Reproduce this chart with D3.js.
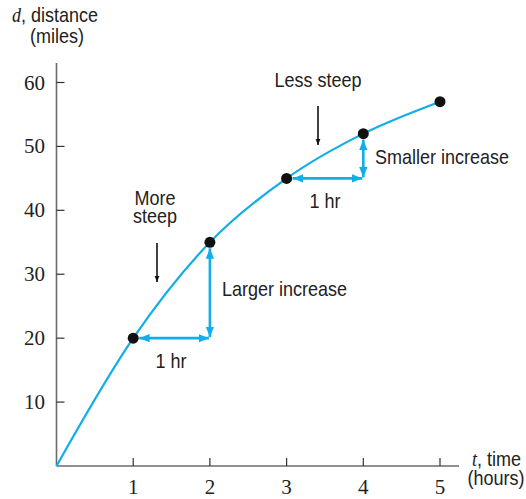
<!DOCTYPE html>
<html><head><meta charset="utf-8">
<script src="https://cdn.jsdelivr.net/npm/d3@7"></script>
<style>
body{margin:0;background:#fff;}
.sans{font-family:"Liberation Sans",Arial,sans-serif;}
.serif{font-family:"Liberation Serif","DejaVu Serif",serif;}
</style>
</head><body>
<svg id="c" width="526" height="499"></svg>
<script>
const times = [0, 1, 2, 3, 4, 5];
const distances = [0, 20, 35, 45, 52, 57];
const markedTimes = [1, 2, 3, 4, 5];
const xTicks = [1, 2, 3, 4, 5];
const yTicks = [10, 20, 30, 40, 50, 60];

const svg = d3.select("#c");
const x = d3.scaleLinear().domain([0, 5]).range([56.5, 440]);
const y = d3.scaleLinear().domain([0, 60]).range([466, 82.5]);
const blue = "#12aee8";
const axisCol = "#6b6b6b";
const SX = 0.9;

// axes
svg.append("line").attr("x1", x(0)).attr("x2", 459).attr("y1", y(0)).attr("y2", y(0))
  .attr("stroke", axisCol).attr("stroke-width", 1.6);
svg.append("line").attr("x1", x(0)).attr("x2", x(0)).attr("y1", y(0)).attr("y2", 63)
  .attr("stroke", axisCol).attr("stroke-width", 1.6);

xTicks.forEach(t => {
  svg.append("line").attr("x1", x(t)).attr("x2", x(t)).attr("y1", y(0)).attr("y2", y(0) - 8)
    .attr("stroke", "#333").attr("stroke-width", 1.2);
  svg.append("text").attr("class", "serif").attr("x", x(t)).attr("y", 494)
    .attr("text-anchor", "middle").attr("font-size", 21).attr("fill", "#222").text(t);
});
yTicks.forEach(v => {
  svg.append("line").attr("x1", x(0)).attr("x2", x(0) + 8).attr("y1", y(v)).attr("y2", y(v))
    .attr("stroke", "#333").attr("stroke-width", 1.2);
  svg.append("text").attr("class", "serif").attr("x", 45).attr("y", y(v) + 7)
    .attr("text-anchor", "end").attr("font-size", 21).attr("fill", "#222").text(v);
});

// condensed text helper
function ctext(xx, yy, anchor, size) {
  return svg.append("text").attr("transform", `translate(${xx},${yy}) scale(${SX},1)`)
    .attr("text-anchor", anchor || "start").attr("font-size", size || 20).attr("fill", "#222");
}

// axis labels (two lines in one text element)
const yl = ctext(12, 22, "start", 20);
yl.append("tspan").attr("class", "serif").attr("font-style", "italic").text("d");
yl.append("tspan").attr("class", "sans").text(", distance");
yl.append("tspan").attr("class", "sans").attr("x", 20).attr("y", 21).text("(miles)");
const xl = ctext(472, 466, "start", 20);
xl.append("tspan").attr("class", "serif").attr("font-style", "italic").text("t");
xl.append("tspan").attr("class", "sans").text(", time");
xl.append("tspan").attr("class", "sans").attr("x", -5).attr("y", 19).text("(hours)");

// curve
const pts = times.map((t, i) => [t, distances[i]]);
svg.append("path").datum(pts)
  .attr("d", d3.line().x(d => x(d[0])).y(d => y(d[1])).curve(d3.curveMonotoneX))
  .attr("fill", "none").attr("stroke", blue).attr("stroke-width", 2.2);

// arrow markers
const defs = svg.append("defs");
function marker(id, col) {
  defs.append("marker").attr("id", id).attr("viewBox", "0 0 10 10").attr("refX", 10).attr("refY", 5)
    .attr("markerWidth", 4).attr("markerHeight", 4).attr("orient", "auto-start-reverse")
    .attr("markerUnits", "strokeWidth")
    .append("path").attr("d", "M0,1 L10,5 L0,9 Z").attr("fill", col);
}
marker("ab", blue);
marker("ak", "#111");

function dbl(x1, y1, x2, y2) {
  svg.append("line").attr("x1", x1).attr("y1", y1).attr("x2", x2).attr("y2", y2)
    .attr("stroke", blue).attr("stroke-width", 2.6)
    .attr("marker-start", "url(#ab)").attr("marker-end", "url(#ab)");
}
const d = t => distances[times.indexOf(t)];
// 1 -> 2
dbl(x(1) + 6, y(d(1)), x(2) - 1, y(d(1)));
dbl(x(2), y(d(1)) - 1, x(2), y(d(2)) + 6);
// 3 -> 4
dbl(x(3) + 6, y(d(3)), x(4) - 1, y(d(3)));
dbl(x(4), y(d(3)) - 1, x(4), y(d(4)) + 6);

// points
svg.selectAll("circle.pt").data(markedTimes).join("circle").attr("class", "pt")
  .attr("cx", t => x(t)).attr("cy", t => y(d(t))).attr("r", 5.5).attr("fill", "#111");

// black arrows
function karrow(xx, y1, y2) {
  svg.append("line").attr("x1", xx).attr("x2", xx).attr("y1", y1).attr("y2", y2)
    .attr("stroke", "#111").attr("stroke-width", 1.6).attr("marker-end", "url(#ak)");
}
karrow(157, 243, 282);
karrow(318, 106, 145);

// annotations
function txt(s, xx, yy, anchor) {
  return ctext(xx, yy, anchor, 20).attr("class", "sans").text(s);
}
const ms = ctext(155, 205, "middle", 20).attr("class", "sans");
ms.append("tspan").attr("x", 0).text("More");
ms.append("tspan").attr("x", 0).attr("y", 18).text("steep");
txt("1 hr", 171, 368, "middle");
txt("Larger increase", 222, 296);
txt("Less steep", 318, 87, "middle");
txt("Smaller increase", 375, 164);
txt("1 hr", 325, 208, "middle");
</script>
</body></html>
